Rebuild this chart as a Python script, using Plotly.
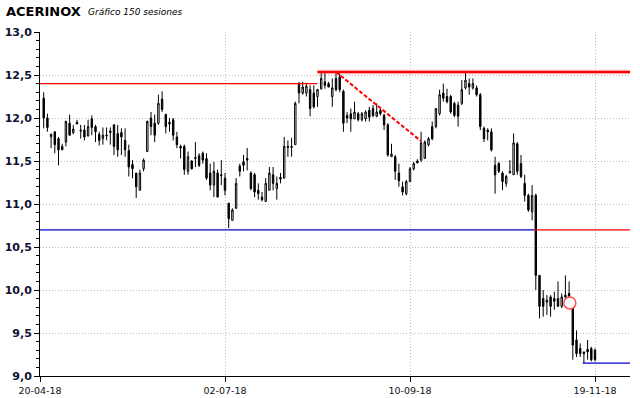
import plotly.graph_objects as go

# ---- data ----
tick_pos = [0, 50, 100, 150]
tick_labels = ["20-04-18", "02-07-18", "10-09-18", "19-11-18"]
y_ticks = [9.0, 9.5, 10.0, 10.5, 11.0, 11.5, 12.0, 12.5, 13.0]
y_tick_labels = ["9,0", "9,5", "10,0", "10,5", "11,0", "11,5", "12,0", "12,5", "13,0"]

open_ = [12.23, 12.00, 11.78, 11.84, 11.76, 11.67, 11.72, 11.94, 11.83, 11.95,
         11.86, 11.86, 11.79, 11.99, 11.90, 11.81, 11.76, 11.79, 11.85, 11.92,
         11.82, 11.83, 11.74, 11.62, 11.46, 11.36, 11.16, 11.41, 11.61, 12.00,
         11.94, 11.94, 12.22, 12.04, 11.95, 11.98, 11.78, 11.67, 11.67, 11.38,
         11.50, 11.54, 11.56, 11.59, 11.53, 11.36, 11.22, 11.36, 11.34, 11.30,
         11.01, 10.81, 10.95, 11.44, 11.49, 11.53, 11.36, 11.34, 11.16, 11.08,
         11.03, 11.16, 11.34, 11.18, 11.31, 11.30, 11.67, 11.67, 11.69, 12.40,
         12.29, 12.29, 12.33, 12.29, 12.25, 12.34, 12.42, 12.40, 12.25, 12.46,
         12.48, 12.31, 12.03, 12.05, 11.99, 12.05, 11.98, 11.99, 12.09, 12.11,
         12.02, 12.09, 12.03, 11.92, 11.55, 11.55, 11.36, 11.20, 11.12, 11.26,
         11.41, 11.50, 11.51, 11.53, 11.69, 11.90, 11.90, 12.05, 12.29, 12.25,
         12.25, 12.17, 12.15, 12.17, 12.35, 12.40, 12.35, 12.35, 12.27, 11.88,
         11.86, 11.84, 11.45, 11.47, 11.36, 11.24, 11.36, 11.34, 11.70, 11.47,
         11.24, 11.10, 10.91, 11.10, 10.17, 9.90, 9.88, 9.92, 9.90, 9.90,
         9.81, 9.94, 9.96, 9.79, 9.42, 9.32, 9.28, 9.31, 9.32, 9.30]
high = [12.30, 12.05, 11.82, 11.84, 11.78, 11.70, 11.97, 12.04, 11.92, 11.98,
        11.92, 11.92, 11.98, 12.03, 11.92, 11.84, 11.89, 11.89, 11.89, 11.93,
        11.92, 11.88, 11.88, 11.69, 11.51, 11.36, 11.40, 11.53, 11.97, 12.07,
        12.04, 12.27, 12.31, 12.05, 12.00, 12.00, 11.84, 11.69, 11.69, 11.61,
        11.51, 11.72, 11.59, 11.61, 11.59, 11.47, 11.49, 11.40, 11.51, 11.36,
        11.01, 10.95, 11.30, 11.47, 11.57, 11.65, 11.38, 11.36, 11.24, 11.14,
        11.30, 11.43, 11.43, 11.32, 11.36, 11.78, 11.74, 11.77, 12.19, 12.42,
        12.42, 12.41, 12.38, 12.38, 12.34, 12.54, 12.54, 12.42, 12.46, 12.54,
        12.52, 12.33, 12.07, 12.11, 12.19, 12.07, 12.07, 12.09, 12.13, 12.15,
        12.17, 12.11, 12.05, 11.94, 11.70, 11.57, 11.47, 11.26, 11.28, 11.43,
        11.49, 11.52, 11.84, 11.74, 11.78, 11.96, 12.11, 12.33, 12.40, 12.34,
        12.27, 12.19, 12.19, 12.44, 12.54, 12.46, 12.46, 12.38, 12.29, 11.90,
        11.88, 11.88, 11.55, 11.49, 11.38, 11.34, 11.51, 11.82, 11.72, 11.57,
        11.34, 11.12, 11.22, 11.12, 10.17, 10.00, 9.94, 9.94, 9.98, 10.10,
        9.96, 10.17, 10.10, 9.79, 9.53, 9.38, 9.28, 9.42, 9.34, 9.32]
low = [11.88, 11.84, 11.65, 11.59, 11.45, 11.63, 11.67, 11.80, 11.81, 11.93,
       11.76, 11.74, 11.79, 11.80, 11.72, 11.68, 11.69, 11.74, 11.69, 11.57,
       11.55, 11.57, 11.55, 11.32, 11.30, 11.07, 11.16, 11.38, 11.61, 11.80,
       11.72, 11.92, 12.07, 11.82, 11.84, 11.74, 11.65, 11.53, 11.34, 11.34,
       11.40, 11.43, 11.43, 11.47, 11.28, 11.16, 11.08, 11.08, 11.22, 11.10,
       10.72, 10.81, 10.95, 11.32, 11.38, 11.39, 11.16, 11.08, 11.05, 11.03,
       11.03, 11.16, 11.16, 11.05, 11.24, 11.30, 11.55, 11.55, 11.69, 12.17,
       12.27, 12.25, 12.02, 12.11, 12.13, 12.33, 12.34, 12.36, 12.13, 12.31,
       12.30, 11.84, 11.94, 11.84, 11.99, 11.96, 11.96, 11.96, 11.96, 12.01,
       12.01, 12.03, 11.86, 11.55, 11.55, 11.28, 11.20, 11.10, 11.10, 11.26,
       11.39, 11.47, 11.49, 11.53, 11.67, 11.74, 11.88, 12.03, 12.19, 12.17,
       12.05, 12.01, 11.90, 12.15, 12.33, 12.27, 12.33, 12.25, 11.86, 11.72,
       11.74, 11.61, 11.12, 11.36, 11.16, 11.20, 11.36, 11.34, 11.34, 11.30,
       11.03, 10.91, 10.81, 10.00, 9.67, 9.69, 9.71, 9.69, 9.77, 9.81,
       9.79, 9.83, 9.92, 9.19, 9.22, 9.22, 9.15, 9.19, 9.17, 9.17]
close = [12.00, 11.89, 11.81, 11.69, 11.63, 11.63, 11.96, 11.80, 11.87, 11.93,
         11.85, 11.78, 11.90, 11.89, 11.84, 11.74, 11.80, 11.80, 11.83, 11.67,
         11.63, 11.78, 11.63, 11.43, 11.41, 11.20, 11.36, 11.51, 11.96, 11.90,
         11.80, 12.17, 12.10, 11.90, 11.93, 11.80, 11.69, 11.65, 11.40, 11.55,
         11.41, 11.53, 11.45, 11.51, 11.30, 11.22, 11.38, 11.08, 11.33, 11.16,
         10.83, 10.93, 11.24, 11.38, 11.45, 11.51, 11.18, 11.14, 11.12, 11.05,
         11.24, 11.36, 11.24, 11.24, 11.29, 11.67, 11.66, 11.66, 12.17, 12.29,
         12.36, 12.37, 12.11, 12.13, 12.33, 12.46, 12.38, 12.36, 12.35, 12.33,
         12.33, 11.94, 12.00, 11.99, 12.07, 11.98, 12.05, 12.07, 12.01, 12.03,
         12.07, 12.05, 11.92, 11.57, 11.58, 11.38, 11.27, 11.14, 11.26, 11.41,
         11.47, 11.48, 11.71, 11.72, 11.76, 11.76, 12.11, 12.27, 12.23, 12.19,
         12.07, 12.03, 12.02, 12.33, 12.44, 12.36, 12.40, 12.27, 11.90, 11.76,
         11.84, 11.63, 11.34, 11.38, 11.26, 11.32, 11.38, 11.71, 11.38, 11.32,
         11.10, 10.93, 11.10, 10.17, 9.81, 9.81, 9.86, 9.81, 9.87, 9.81,
         9.92, 9.92, 9.93, 9.36, 9.26, 9.26, 9.26, 9.28, 9.19, 9.19]
session = list(range(1, len(close) + 1))

# support / resistance drawings
old_res_x = [0, 75]
old_res_y = [12.40, 12.40]
top_res_x = [75, 159.5]
top_res_y = [12.535, 12.535]
trend_x = [80, 103]
trend_y = [12.535, 11.73]
sup_blue_x = [0, 133.7]
sup_red_x = [133.7, 159.5]
sup_y = [10.70, 10.70]
low_x = [146.7, 159.5]
low_y = [9.15, 9.15]
mark_x = [143.2]
mark_y = [9.85]

X0, X1 = 0, 159.46
Y0, Y1 = 9.0, 13.0

fig = go.Figure()

def line(xs, ys, color, width, dash="solid"):
    fig.add_trace(go.Scatter(x=xs, y=ys, mode="lines", hoverinfo="skip",
                             line=dict(color=color, width=width, dash=dash),
                             showlegend=False))

line(sup_blue_x, sup_y, "#0000d0", 1.3)
line(sup_red_x, sup_y, "#ff0000", 1.3)
line(low_x, low_y, "#0000d0", 1.3)
line(old_res_x, old_res_y, "#ff0000", 1.3)

fig.add_trace(go.Candlestick(
    x=session, open=open_, high=high, low=low, close=close,
    increasing=dict(line=dict(color="black", width=1), fillcolor="white"),
    decreasing=dict(line=dict(color="black", width=1), fillcolor="black"),
    whiskerwidth=0, hoverinfo="skip", showlegend=False))

line(top_res_x, top_res_y, "rgba(255,60,60,0.45)", 4.5)
line(top_res_x, top_res_y, "#ff0000", 2)
line(trend_x, trend_y, "#ff0000", 2, "4px,2px")

fig.add_trace(go.Scatter(x=mark_x, y=mark_y, mode="markers", hoverinfo="skip",
                         marker=dict(symbol="circle", size=12, color="white",
                                     line=dict(color="#ff5050", width=1.5)),
                         showlegend=False))

W, H = 640, 398
L, R, T, B = 40, 10, 32, 22
pw, ph = W - L - R, H - T - B

def px(xpix):
    return (xpix - L) / pw

def py(ypix):
    return (H - B - ypix) / ph

fig.add_annotation(text="<b>ACERINOX</b>", xref="paper", yref="paper",
                   x=px(4), y=py(12), xanchor="left", yanchor="middle",
                   showarrow=False, font=dict(family="DejaVu Sans", size=13, color="black"))
fig.add_annotation(text="<i>Gráfico 150 sesiones</i>", xref="paper", yref="paper",
                   x=px(86), y=py(12), xanchor="left", yanchor="middle",
                   showarrow=False, font=dict(family="DejaVu Sans", size=9, color="black"))

fig.update_layout(
    width=W, height=H,
    margin=dict(l=L, r=R, t=T, b=B, autoexpand=False),
    paper_bgcolor="white", plot_bgcolor="white",
    boxgap=0.45,
    showlegend=False,
    hovermode=False,
    xaxis=dict(range=[X0, X1], rangeslider=dict(visible=False),
               tickmode="array", tickvals=tick_pos, ticktext=tick_labels,
               ticks="outside", ticklen=5, tickcolor="black",
               showline=True, linecolor="black", linewidth=1.2,
               showgrid=True, gridcolor="#bdbdbd", griddash="1px,2px", gridwidth=1,
               zeroline=False, fixedrange=True,
               tickfont=dict(family="DejaVu Sans", size=9.5, color="#101020")),
    yaxis=dict(range=[Y0, Y1], tickmode="array", tickvals=y_ticks, ticktext=y_tick_labels,
               ticks="outside", ticklen=5, tickcolor="black",
               minor=dict(dtick=0.1, tick0=9.0, ticks="outside", ticklen=3,
                          tickcolor="black", showgrid=False),
               showline=True, linecolor="black", linewidth=1,
               showgrid=True, gridcolor="#bdbdbd", griddash="1px,2px", gridwidth=1,
               zeroline=False, fixedrange=True,
               tickfont=dict(family="DejaVu Sans", size=11, color="#101030", weight="bold")),
)

fig.write_html("out.html", config={"displayModeBar": False, "staticPlot": True},
               post_script="document.body.style.margin='0';document.body.style.padding='0';document.body.style.overflow='hidden';")
